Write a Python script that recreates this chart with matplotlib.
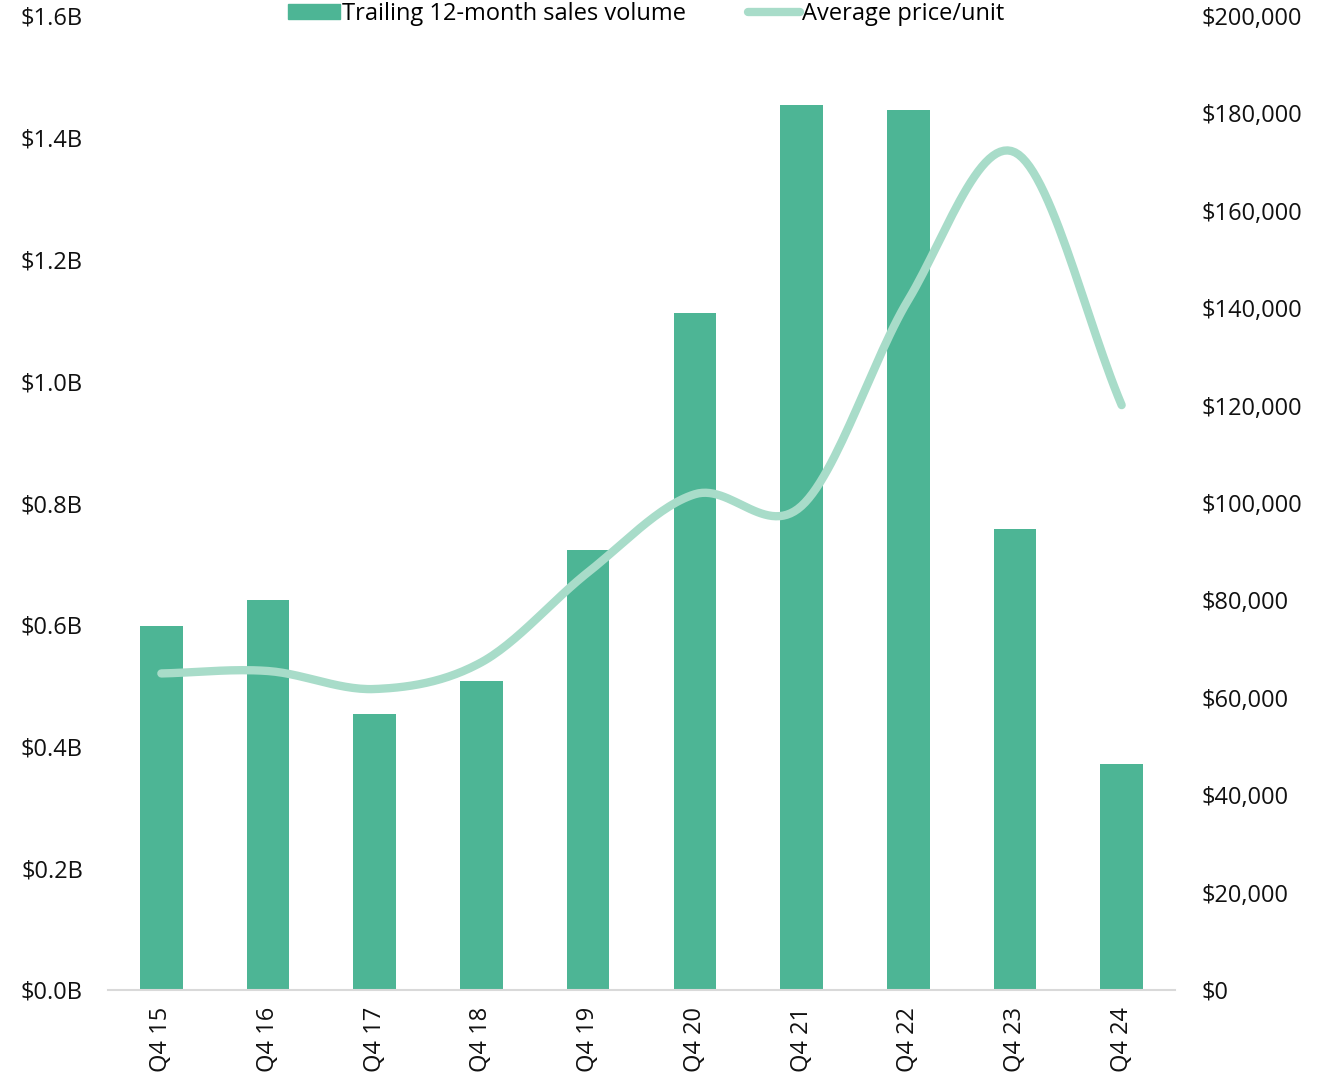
import matplotlib.pyplot as plt
import matplotlib.ticker as mticker
from matplotlib.lines import Line2D
from matplotlib.patches import Patch
import numpy as np

plt.rcParams['font.family'] = ['Open Sans', 'DejaVu Sans']

quarters = ["Q4 15", "Q4 16", "Q4 17", "Q4 18", "Q4 19",
            "Q4 20", "Q4 21", "Q4 22", "Q4 23", "Q4 24"]
sales_volume = [0.598, 0.641, 0.453, 0.508, 0.723,
                1.112, 1.454, 1.446, 0.757, 0.371]  # $B
avg_price = [65000, 65500, 61800, 67300, 85800,
             101800, 99400, 141700, 172000, 120100]

bar_color = "#4db595"
line_color = "#a8dcc9"


def smooth(x, y, steps=30):
    # Catmull-Rom curve through the points, like a smoothed Excel line
    x = np.asarray(x, float)
    y = np.asarray(y, float)
    px = np.concatenate([[2 * x[0] - x[1]], x, [2 * x[-1] - x[-2]]])
    py = np.concatenate([[2 * y[0] - y[1]], y, [2 * y[-1] - y[-2]]])
    xs, ys = [], []
    t = np.linspace(0, 1, steps)
    for i in range(1, len(px) - 2):
        for p, out in ((px, xs), (py, ys)):
            p0, p1, p2, p3 = p[i - 1], p[i], p[i + 1], p[i + 2]
            out.extend(0.5 * (2 * p1 + (-p0 + p2) * t
                              + (2 * p0 - 5 * p1 + 4 * p2 - p3) * t ** 2
                              + (-p0 + 3 * p1 - 3 * p2 + p3) * t ** 3))
    return np.array(xs), np.array(ys)


fig = plt.figure(figsize=(13.32, 10.75), dpi=100)
ax = fig.add_axes([108 / 1332, 85 / 1075, 1067 / 1332, 974 / 1075])
x = np.arange(len(quarters))
ax.bar(x, sales_volume, width=0.4, color=bar_color, zorder=2)
ax.set_xlim(-0.5, len(quarters) - 0.5)
ax.set_ylim(0, 1.6)
ax.set_yticks(np.arange(0, 1.61, 0.2))
ax.yaxis.set_major_formatter(mticker.FuncFormatter(lambda v, _: f"${v:.1f}B"))
ax.set_xticks(x)
ax.set_xticklabels(quarters, rotation=90)
ax.tick_params(axis="both", length=0, labelsize=17, colors="#111111")
ax.tick_params(axis="y", pad=18)
ax.tick_params(axis="x", pad=12)
for s in ["left", "top", "right"]:
    ax.spines[s].set_visible(False)
ax.spines["bottom"].set_color("#d9d9d9")
ax.spines["bottom"].set_linewidth(1.5)

ax2 = ax.twinx()
sx, sy = smooth(x, avg_price)
ax2.plot(sx, sy, color=line_color, lw=6, solid_capstyle="round", zorder=3)
ax2.set_ylim(0, 200000)
ax2.set_yticks(np.arange(0, 200001, 20000))
ax2.yaxis.set_major_formatter(mticker.FuncFormatter(lambda v, _: f"${v:,.0f}"))
ax2.tick_params(axis="y", length=0, labelsize=17, pad=19, colors="#111111")
for s in ["left", "top", "right", "bottom"]:
    ax2.spines[s].set_visible(False)

handles = [Patch(color=bar_color),
           Line2D([0], [0], color=line_color, lw=6, solid_capstyle="round")]
fig.legend(handles, ["Trailing 12-month sales volume", "Average price/unit"],
           loc="center", bbox_to_anchor=(646 / 1332, 1 - 14 / 1075),
           ncol=2, frameon=False, fontsize=17, handlelength=2.2,
           handleheight=0.6, handletextpad=0.1, columnspacing=2.6,
           borderpad=0)

fig.savefig("out.png", dpi=100)
